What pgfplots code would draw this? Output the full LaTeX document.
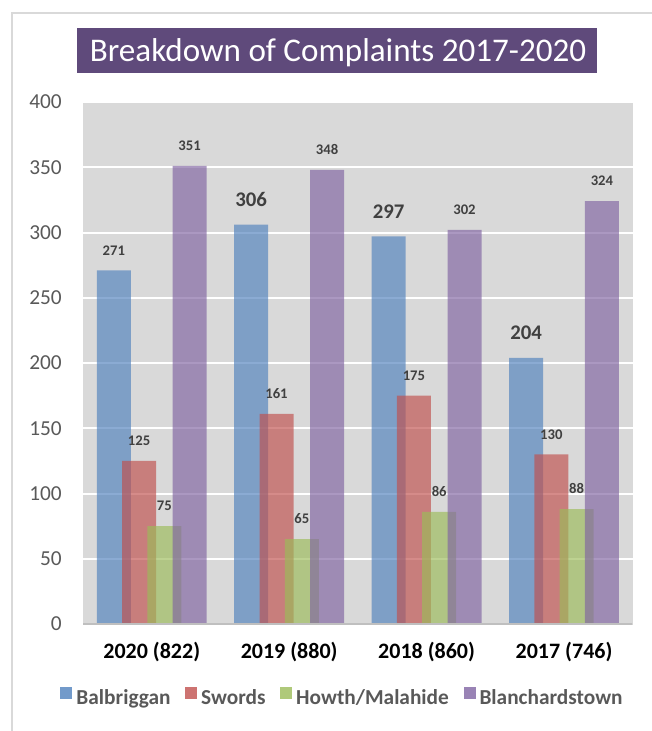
\documentclass[border=0pt]{standalone}
\usepackage{fontspec}
\setmainfont{Carlito}
\usepackage{pgfplots}
\pgfplotsset{compat=1.18}

\definecolor{cBlue}{HTML}{4F81BD}
\definecolor{cRed}{HTML}{C0504D}
\definecolor{cGreen}{HTML}{9BBB59}
\definecolor{cPurple}{HTML}{8064A2}
\definecolor{plotGrey}{HTML}{D9D9D9}
\definecolor{baseGrey}{HTML}{BFBFBF}
\definecolor{frameGrey}{HTML}{D9D9D9}
\definecolor{tickGrey}{HTML}{595959}
\definecolor{labelGrey}{HTML}{404040}
\definecolor{titlePurple}{HTML}{5F4A7B}

% larger data labels used for some Balbriggan bars
\newcommand\bigval[1]{\raisebox{2.3pt}{\fontsize{15.6pt}{18pt}\selectfont #1}}

\begin{document}
\begin{tikzpicture}[x=0.75pt,y=-0.75pt]
\path[use as bounding box] (0,0) rectangle (652,731);
\draw[frameGrey, line width=1.1pt] (12,731) -- (12,13) -- (652,13);
\fill[titlePurple] (77,28) rectangle (596.7,72.7);
\node[anchor=base, text=white, inner sep=0pt, font=\fontsize{24.8pt}{29pt}\selectfont]
  at (338,61.7) {Breakdown of Complaints 2017-2020};

\begin{axis}[
    at={(62.25pt,-468pt)}, anchor=south west,
    scale only axis, width=412.3pt, height=391.5pt,
    ybar, bar width=0.2475,
    legend image code/.code={\fill[#1, fill opacity=0.8] (0pt,-0.5pt) rectangle (9pt,8.5pt);},
    xmin=-0.5, xmax=3.5, ymin=0, ymax=400,
    xtick={0,1,2,3},
    xticklabels={2020 (822),2019 (880),2018 (860),2017 (746)},
    ytick={0,50,...,400},
    /pgf/number format/assume math mode=true,
    axis background/.style={fill=plotGrey},
    axis line style={draw=none},
    ymajorgrids, grid style={white, line width=1.5pt},
    major tick length=0pt,
    yticklabel style={font=\fontsize{16pt}{19pt}\selectfont, text=tickGrey,
        anchor=east, inner sep=0pt, xshift=-15.75pt},
    xticklabel style={font=\bfseries\fontsize{16.5pt}{19pt}\selectfont, text=black,
        anchor=center, inner sep=0pt, yshift=-21pt},
    every node near coord/.append style={font=\bfseries\fontsize{11pt}{13pt}\selectfont,
        text=labelGrey, text opacity=1, anchor=base, inner sep=0pt, yshift=11.5pt},
    legend columns=4,
    legend style={at={(0.4703,-0.1398)}, anchor=center, draw=none, fill=none,
        font=\bfseries\fontsize{16pt}{19pt}\selectfont, text=tickGrey,
        nodes={inner sep=0pt},
        /tikz/every odd column/.append style={column sep=3pt},
        /tikz/every even column/.append style={column sep=11pt}},
]
\addplot[draw=none, fill=cBlue, fill opacity=0.66, bar shift=-0.276,
    nodes near coords, point meta=explicit symbolic]
    coordinates {(0,271) [271] (1,306) [\bigval{306}] (2,297) [\bigval{297}] (3,204) [\bigval{204}]};
\addplot[draw=none, fill=cRed, fill opacity=0.66, bar shift=-0.092,
    nodes near coords, point meta=explicit symbolic]
    coordinates {(0,125) [125] (1,161) [161] (2,175) [175] (3,130) [130]};
\addplot[draw=none, fill=cGreen, fill opacity=0.66, bar shift=0.092,
    nodes near coords, point meta=explicit symbolic]
    coordinates {(0,75) [75] (1,65) [65] (2,86) [86] (3,88) [88]};
\addplot[draw=none, fill=cPurple, fill opacity=0.66, bar shift=0.276,
    nodes near coords, point meta=explicit symbolic]
    coordinates {(0,351) [351] (1,348) [348] (2,302) [302] (3,324) [324]};
\legend{Balbriggan,Swords,Howth/Malahide,Blanchardstown}
\draw[baseGrey, line width=2.25pt] (rel axis cs:0,0) -- (rel axis cs:1,0);
\end{axis}
\end{tikzpicture}
\end{document}
